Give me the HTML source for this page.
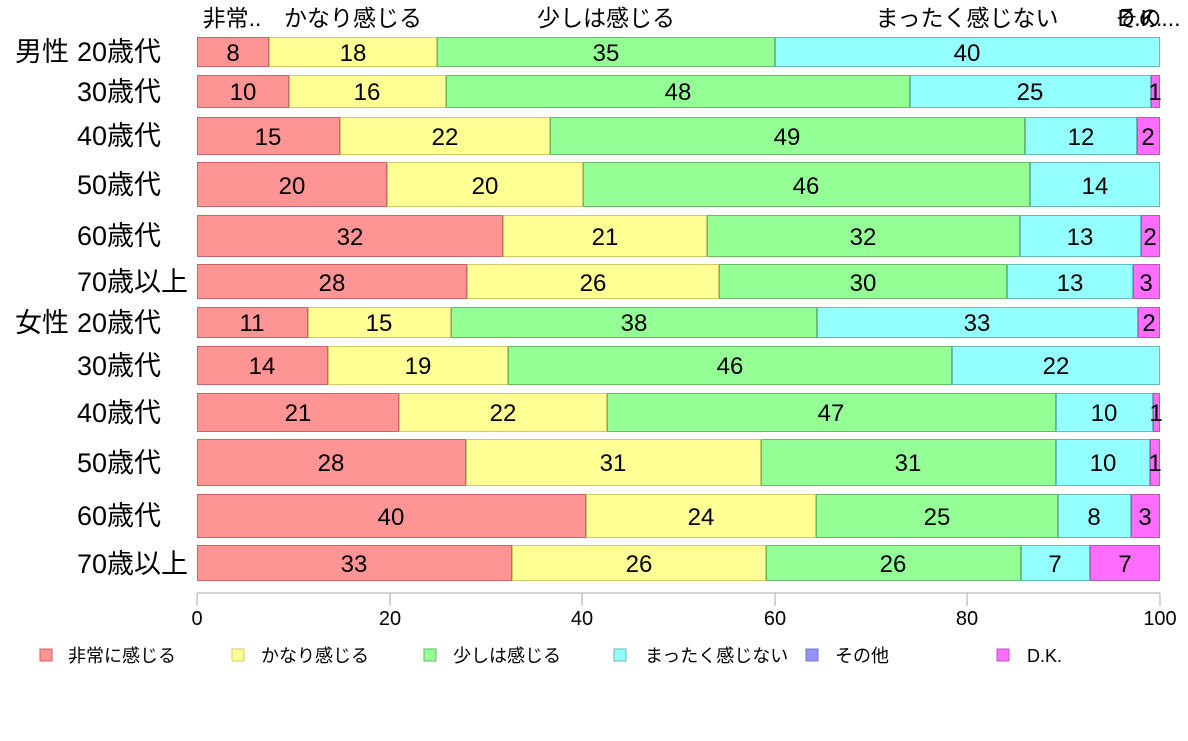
<!DOCTYPE html>
<html><head><meta charset="utf-8"><style>
body{margin:0;background:#fff}
svg text{font-family:"Liberation Sans","Noto Sans CJK JP",sans-serif;fill:#000}
.a{fill:#ff9494;stroke:#c66}.b{fill:#ffff94;stroke:#cc6}.c{fill:#94ff94;stroke:#6b6}.d{fill:#94ffff;stroke:#6bb}.e{fill:#ff6dff;stroke:#b5b}
.bl text{font-size:24px;text-anchor:middle}
</style></head><body>
<svg width="1188" height="736" xmlns="http://www.w3.org/2000/svg">
<g font-size="23" text-anchor="middle">
<text x="232" y="26">非常..</text>
<text x="353" y="26">かなり感じる</text>
<text x="606" y="26">少しは感じる</text>
<text x="967" y="26">まったく感じない</text>
<text x="1148" y="26">その...</text>
<text x="1140" y="26">D.K.</text>
</g>
<g font-size="27">
<text x="15" y="61">男性</text>
<text x="15" y="332">女性</text>
<text x="77" y="61">20歳代</text>
<text x="77" y="101">30歳代</text>
<text x="77" y="145">40歳代</text>
<text x="77" y="194">50歳代</text>
<text x="77" y="245">60歳代</text>
<text x="77" y="291">70歳以上</text>
<text x="77" y="332">20歳代</text>
<text x="77" y="375">30歳代</text>
<text x="77" y="422">40歳代</text>
<text x="77" y="472">50歳代</text>
<text x="77" y="525">60歳代</text>
<text x="77" y="573">70歳以上</text>
</g>
<g class="bl">
<rect class="a" x="197.5" y="37.5" width="71" height="29"/><rect class="b" x="269.5" y="37.5" width="167" height="29"/><rect class="c" x="437.5" y="37.5" width="337" height="29"/><rect class="d" x="775.5" y="37.5" width="384" height="29"/>
<text x="233" y="61">8</text><text x="353" y="61">18</text><text x="606" y="61">35</text><text x="967" y="61">40</text>

<rect class="a" x="197.5" y="75.5" width="91" height="32"/><rect class="b" x="289.5" y="75.5" width="156" height="32"/><rect class="c" x="446.5" y="75.5" width="463" height="32"/><rect class="d" x="910.5" y="75.5" width="240" height="32"/><rect class="e" x="1151.5" y="75.5" width="8" height="32"/>
<text x="243" y="100">10</text><text x="367" y="100">16</text><text x="678" y="100">48</text><text x="1030" y="100">25</text><text x="1155" y="100">1</text>

<rect class="a" x="197.5" y="117.5" width="142" height="37"/><rect class="b" x="340.5" y="117.5" width="209" height="37"/><rect class="c" x="550.5" y="117.5" width="474" height="37"/><rect class="d" x="1025.5" y="117.5" width="111" height="37"/><rect class="e" x="1137.5" y="117.5" width="22" height="37"/>
<text x="268" y="145">15</text><text x="445" y="145">22</text><text x="787" y="145">49</text><text x="1081" y="145">12</text><text x="1148" y="145">2</text>

<rect class="a" x="197.5" y="162.5" width="189" height="44"/><rect class="b" x="387.5" y="162.5" width="195" height="44"/><rect class="c" x="583.5" y="162.5" width="446" height="44"/><rect class="d" x="1030.5" y="162.5" width="129" height="44"/>
<text x="292" y="194">20</text><text x="485" y="194">20</text><text x="806" y="194">46</text><text x="1095" y="194">14</text>

<rect class="a" x="197.5" y="215.5" width="305" height="41"/><rect class="b" x="503.5" y="215.5" width="203" height="41"/><rect class="c" x="707.5" y="215.5" width="312" height="41"/><rect class="d" x="1020.5" y="215.5" width="120" height="41"/><rect class="e" x="1141.5" y="215.5" width="18" height="41"/>
<text x="350" y="245">32</text><text x="605" y="245">21</text><text x="863" y="245">32</text><text x="1080" y="245">13</text><text x="1150" y="245">2</text>

<rect class="a" x="197.5" y="264.5" width="269" height="34"/><rect class="b" x="467.5" y="264.5" width="251" height="34"/><rect class="c" x="719.5" y="264.5" width="287" height="34"/><rect class="d" x="1007.5" y="264.5" width="125" height="34"/><rect class="e" x="1133.5" y="264.5" width="26" height="34"/>
<text x="332" y="291">28</text><text x="593" y="291">26</text><text x="863" y="291">30</text><text x="1070" y="291">13</text><text x="1146" y="291">3</text>

<rect class="a" x="197.5" y="307.5" width="110" height="30"/><rect class="b" x="308.5" y="307.5" width="142" height="30"/><rect class="c" x="451.5" y="307.5" width="365" height="30"/><rect class="d" x="817.5" y="307.5" width="320" height="30"/><rect class="e" x="1138.5" y="307.5" width="21" height="30"/>
<text x="252" y="331">11</text><text x="379" y="331">15</text><text x="634" y="331">38</text><text x="977" y="331">33</text><text x="1149" y="331">2</text>

<rect class="a" x="197.5" y="346.5" width="130" height="38"/><rect class="b" x="328.5" y="346.5" width="179" height="38"/><rect class="c" x="508.5" y="346.5" width="443" height="38"/><rect class="d" x="952.5" y="346.5" width="207" height="38"/>
<text x="262" y="374">14</text><text x="418" y="374">19</text><text x="730" y="374">46</text><text x="1056" y="374">22</text>

<rect class="a" x="197.5" y="393.5" width="201" height="38"/><rect class="b" x="399.5" y="393.5" width="207" height="38"/><rect class="c" x="607.5" y="393.5" width="448" height="38"/><rect class="d" x="1056.5" y="393.5" width="96" height="38"/><rect class="e" x="1153.5" y="393.5" width="6" height="38"/>
<text x="298" y="421">21</text><text x="503" y="421">22</text><text x="831" y="421">47</text><text x="1104" y="421">10</text><text x="1156" y="421">1</text>

<rect class="a" x="197.5" y="439.5" width="268" height="46"/><rect class="b" x="466.5" y="439.5" width="294" height="46"/><rect class="c" x="761.5" y="439.5" width="294" height="46"/><rect class="d" x="1056.5" y="439.5" width="93" height="46"/><rect class="e" x="1150.5" y="439.5" width="9" height="46"/>
<text x="331" y="471">28</text><text x="613" y="471">31</text><text x="908" y="471">31</text><text x="1103" y="471">10</text><text x="1155" y="471">1</text>

<rect class="a" x="197.5" y="494.5" width="388" height="43"/><rect class="b" x="586.5" y="494.5" width="229" height="43"/><rect class="c" x="816.5" y="494.5" width="241" height="43"/><rect class="d" x="1058.5" y="494.5" width="72" height="43"/><rect class="e" x="1131.5" y="494.5" width="28" height="43"/>
<text x="391" y="525">40</text><text x="701" y="525">24</text><text x="937" y="525">25</text><text x="1094" y="525">8</text><text x="1145" y="525">3</text>

<rect class="a" x="197.5" y="545.5" width="314" height="35"/><rect class="b" x="512.5" y="545.5" width="253" height="35"/><rect class="c" x="766.5" y="545.5" width="254" height="35"/><rect class="d" x="1021.5" y="545.5" width="68" height="35"/><rect class="e" x="1090.5" y="545.5" width="69" height="35"/>
<text x="354" y="572">33</text><text x="639" y="572">26</text><text x="893" y="572">26</text><text x="1055" y="572">7</text><text x="1125" y="572">7</text>
</g>
<line x1="197" y1="593" x2="1160" y2="593" stroke="#aaa"/>
<g stroke="#aaa">
<line x1="197" y1="593" x2="197" y2="606"/><line x1="390" y1="593" x2="390" y2="606"/><line x1="582" y1="593" x2="582" y2="606"/><line x1="775" y1="593" x2="775" y2="606"/><line x1="967" y1="593" x2="967" y2="606"/><line x1="1160" y1="593" x2="1160" y2="606"/>
</g>
<g font-size="20" text-anchor="middle">
<text x="197" y="625">0</text><text x="390" y="625">20</text><text x="582" y="625">40</text><text x="775" y="625">60</text><text x="967" y="625">80</text><text x="1160" y="625">100</text>
</g>
<g font-size="18">
<rect x="40" y="649" width="12" height="12" class="a"/><text x="68" y="662">非常に感じる</text>
<rect x="232" y="649" width="12" height="12" class="b"/><text x="261" y="662">かなり感じる</text>
<rect x="424" y="649" width="12" height="12" class="c"/><text x="453" y="662">少しは感じる</text>
<rect x="614" y="649" width="12" height="12" class="d"/><text x="645" y="662">まったく感じない</text>
<rect x="806" y="649" width="12" height="12" fill="#9494ff" stroke="#77c"/><text x="835" y="662">その他</text>
<rect x="997" y="649" width="12" height="12" class="e"/><text x="1027" y="662">D.K.</text>
</g>
</svg>
</body></html>
